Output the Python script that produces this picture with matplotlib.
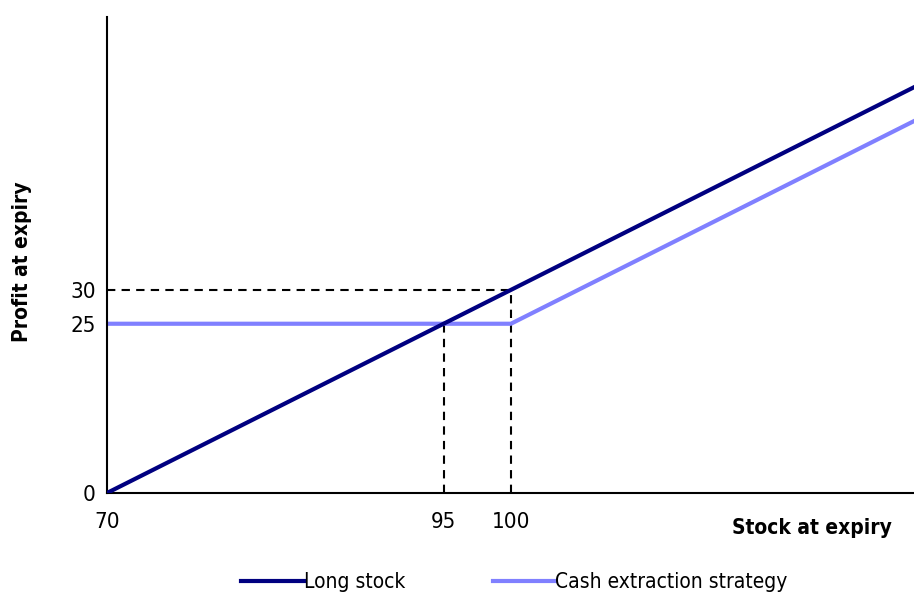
import matplotlib.pyplot as plt

# Data
stock = [70, 75, 80, 85, 90, 95, 100, 105, 110, 115, 120, 125, 130]
long_stock = [0, 5, 10, 15, 20, 25, 30, 35, 40, 45, 50, 55, 60]
cash_extract = [25, 25, 25, 25, 25, 25, 25, 30, 35, 40, 45, 50, 55]
xticks = [70, 95, 100]
yticks = [0, 25, 30]

plt.rcParams['font.family'] = ['Liberation Sans Narrow', 'DejaVu Sans']
plt.rcParams['font.stretch'] = 'condensed'

fig = plt.figure(figsize=(9.14, 5.93), dpi=100)
ax = fig.add_axes([0.117, 0.1686, 0.884, 0.8027])

ax.plot(stock, long_stock, color='#000080', lw=3, label='Long stock', zorder=3)
ax.plot(stock, cash_extract, color='#8080ff', lw=3, label='Cash extraction strategy', zorder=2)

# guide lines
ax.plot([70, 100], [30, 30], color='black', ls=(0, (4, 3)), lw=1.5, zorder=1)
ax.plot([100, 100], [0, 30], color='black', ls=(0, (4, 3)), lw=1.5, zorder=1)
ax.plot([95, 95], [0, 25], color='black', ls=(0, (4, 3)), lw=1.5, zorder=1)

ax.set_xlim(70, 130)
ax.set_ylim(0, 70.3)
ax.set_xticks(xticks)
ax.set_yticks(yticks)
ax.tick_params(length=0, labelsize=16, pad=8)
ax.tick_params(axis='x', pad=14)
for s in ['top', 'right']:
    ax.spines[s].set_visible(False)
for s in ['left', 'bottom']:
    ax.spines[s].set_linewidth(1.5)

fig.text(0.888, 0.11, 'Stock at expiry', fontsize=15, fontweight='bold', ha='center', va='center')
fig.text(0.024, 0.558, 'Profit at expiry', fontsize=15, fontweight='bold', rotation=90,
         ha='center', va='center')

fig.legend(loc='center', bbox_to_anchor=(0.563, 0.018), ncol=2, frameon=False,
           fontsize=15, handlelength=3.0, handletextpad=0.0, columnspacing=4.2)

fig.savefig('out.png', dpi=100)
